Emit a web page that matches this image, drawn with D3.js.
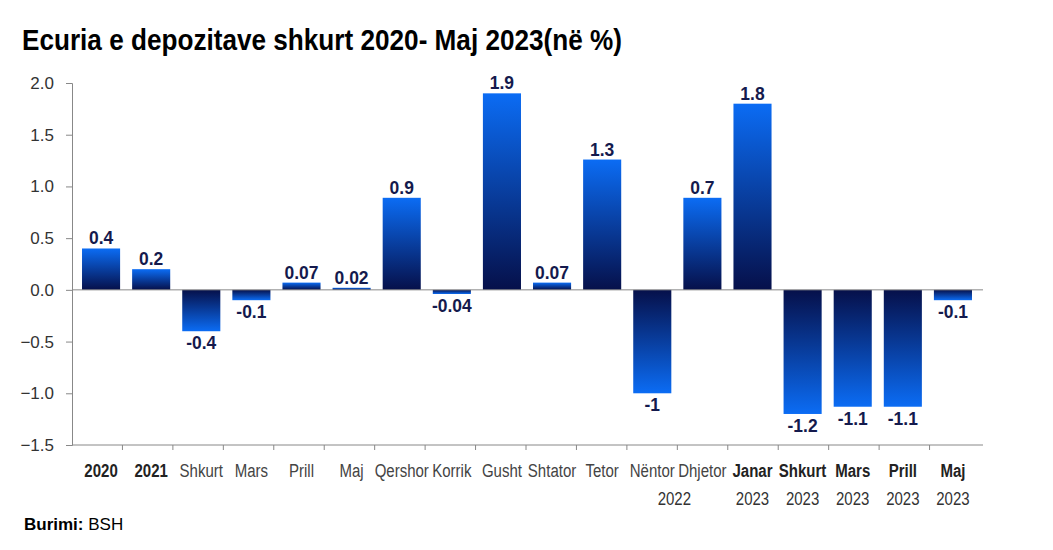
<!DOCTYPE html>
<html>
<head>
<meta charset="utf-8">
<script src="https://cdn.jsdelivr.net/npm/d3@7"></script>
<style>
  body { margin: 0; background: #fff; }
  text { font-family: "Liberation Sans", Arial, sans-serif; }
</style>
</head>
<body>
<svg id="chart"></svg>
<script>
var width = 1053,
    height = 550,
    margin = {top: 83, right: 73, bottom: 105, left: 72};

// data
var months = ['2020', '2021', 'Shkurt', 'Mars', 'Prill', 'Maj', 'Qershor', 'Korrik', 'Gusht',
              'Shtator', 'Tetor', 'Nëntor', 'Dhjetor', 'Janar', 'Shkurt', 'Mars', 'Prill', 'Maj'];
var years = ['', '', '', '', '', '', '', '', '', '', '', '', '', '2023', '2023', '2023', '2023', '2023'];
var boldFirst = [true, true, false, false, false, false, false, false, false,
                 false, false, false, false, true, true, true, true, true];
var values = [0.4, 0.2, -0.4, -0.1, 0.07, 0.02, 0.89, -0.04, 1.9,
              0.07, 1.26, -1.0, 0.89, 1.8, -1.2, -1.13, -1.13, -0.1];
var valueLabels = ['0.4', '0.2', '-0.4', '-0.1', '0.07', '0.02', '0.9', '-0.04', '1.9',
                   '0.07', '1.3', '-1', '0.7', '1.8', '-1.2', '-1.1', '-1.1', '-0.1'];
var yTicks = [2.0, 1.5, 1.0, 0.5, 0.0, -0.5, -1.0, -1.5];

// no condensed font installed, so squeeze text sideways
var catK = 0.79, valK = 0.97;

var svg = d3.select("#chart")
            .attr("width", width)
            .attr("height", height);

var defs = svg.append("defs");
// dark at the baseline, bright at the end of the bar
var gUp = defs.append("linearGradient").attr("id", "gradUp")
              .attr("x1", 0).attr("y1", 0).attr("x2", 0).attr("y2", 1);
gUp.append("stop").attr("offset", "0%").attr("stop-color", "#0b6cf4");
gUp.append("stop").attr("offset", "100%").attr("stop-color", "#06104a");
var gDown = defs.append("linearGradient").attr("id", "gradDown")
              .attr("x1", 0).attr("y1", 0).attr("x2", 0).attr("y2", 1);
gDown.append("stop").attr("offset", "0%").attr("stop-color", "#06104a");
gDown.append("stop").attr("offset", "100%").attr("stop-color", "#0b6cf4");

var x = d3.scaleBand()
          .domain(d3.range(months.length))
          .range([margin.left + 2, width - margin.right])
          .paddingInner(0.24)
          .paddingOuter(0.16);

var y = d3.scaleLinear()
          .domain([-1.5, 2.0])
          .range([height - margin.bottom, margin.top]);

//Title
svg.append("text")
   .attr("x", 22).attr("y", 50)
   .attr("font-size", 29).attr("font-weight", "bold")
   .attr("textLength", 600).attr("lengthAdjust", "spacingAndGlyphs")
   .attr("fill", "#000")
   .text("Ecuria e depozitave shkurt 2020- Maj 2023(në %)");

//Y axis
var yAxis = svg.append("g")
   .attr("transform", "translate(" + margin.left + ",0)")
   .call(d3.axisLeft(y).tickValues(yTicks).tickFormat(d3.format(".1f")).tickSize(6).tickPadding(12));
yAxis.select(".domain").attr("stroke", "#888");
yAxis.selectAll(".tick line").attr("stroke", "#888");
yAxis.selectAll(".tick text")
     .attr("font-family", "Liberation Sans, Arial, sans-serif")
     .attr("font-size", 17).attr("fill", "#333");

//X axis line with ticks between categories
var bounds = d3.range(months.length + 1).map(function(i) {
  return margin.left + (width - margin.right - margin.left) * i / months.length;
});
svg.append("line")
   .attr("x1", margin.left).attr("x2", width - margin.right + 3)
   .attr("y1", y(-1.5)).attr("y2", y(-1.5))
   .attr("stroke", "#888");
svg.selectAll(".xtick").data(bounds.slice(1, -1)).enter().append("line")
   .attr("class", "xtick")
   .attr("x1", function(d) { return d; }).attr("x2", function(d) { return d; })
   .attr("y1", y(-1.5)).attr("y2", y(-1.5) + 5)
   .attr("stroke", "#888");

//Bars
svg.selectAll(".bar").data(values).enter().append("rect")
   .attr("class", "bar")
   .attr("x", function(d, i) { return x(i); })
   .attr("width", x.bandwidth())
   .attr("y", function(d) { return y(Math.max(0, d)); })
   .attr("height", function(d) { return Math.abs(y(d) - y(0)); })
   .attr("fill", function(d) { return d >= 0 ? "url(#gradUp)" : "url(#gradDown)"; });

//Zero line
svg.append("line")
   .attr("x1", margin.left).attr("x2", width - margin.right + 3)
   .attr("y1", y(0)).attr("y2", y(0))
   .attr("stroke", "#888");

//Value labels
svg.selectAll(".val").data(values).enter().append("text")
   .attr("class", "val")
   .attr("transform", "scale(" + valK + ",1)")
   .attr("x", function(d, i) { return (x(i) + x.bandwidth() / 2) / valK; })
   .attr("y", function(d) { return d >= 0 ? y(d) - 4 : y(d) + 18; })
   .attr("text-anchor", "middle")
   .attr("font-size", 18).attr("font-weight", "bold")
   .attr("fill", "#141a4d")
   .text(function(d, i) { return valueLabels[i]; });

//Category labels
svg.selectAll(".cat").data(months).enter().append("text")
   .attr("class", "cat")
   .attr("transform", "scale(" + catK + ",1)")
   .attr("x", function(d, i) { return (x(i) + x.bandwidth() / 2) / catK; })
   .attr("y", 477)
   .attr("text-anchor", "middle")
   .attr("font-size", 19)
   .attr("font-weight", function(d, i) { return boldFirst[i] ? "bold" : "normal"; })
   .attr("fill", function(d, i) { return boldFirst[i] ? "#222" : "#444"; })
   .text(function(d) { return d; });

svg.selectAll(".yr").data(years).enter().append("text")
   .attr("class", "yr")
   .attr("transform", "scale(" + catK + ",1)")
   .attr("x", function(d, i) { return (x(i) + x.bandwidth() / 2) / catK; })
   .attr("y", 505)
   .attr("text-anchor", "middle")
   .attr("font-size", 19).attr("fill", "#333")
   .text(function(d) { return d; });

// 2022 sits under Nëntor / Dhjetor
svg.append("text")
   .attr("transform", "scale(" + catK + ",1)")
   .attr("x", (bounds[12] - 3) / catK)
   .attr("y", 505)
   .attr("text-anchor", "middle")
   .attr("font-size", 19).attr("fill", "#333")
   .text("2022");

//Source
var src = svg.append("text")
   .attr("x", 24).attr("y", 530)
   .attr("font-family", "Liberation Sans, Arial, sans-serif")
   .attr("font-size", 17).attr("fill", "#000");
src.append("tspan").attr("font-weight", "bold").text("Burimi: ");
src.append("tspan").text("BSH");
</script>
</body>
</html>
